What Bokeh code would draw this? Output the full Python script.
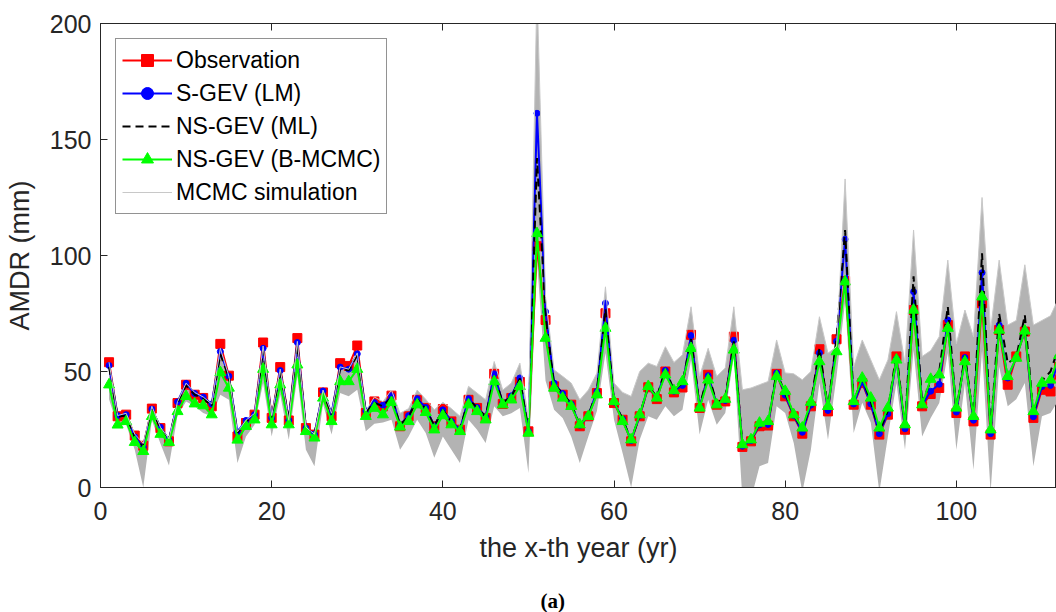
from bokeh.plotting import figure
from bokeh.models import Range1d, LinearAxis, Title, FixedTicker
from bokeh.embed import file_html
from bokeh.resources import INLINE

years = list(range(1, 113))

observation = [54, 30.7, 31.4, 22.4, 18, 34, 25.6, 19.9, 36.4, 44.3, 40, 38.6, 35, 61.9, 48.2, 22, 27.8, 31.4, 62.5, 30,
               51.9, 28.9, 64.4, 25.6, 22.8, 41, 30.7, 53.6, 52.4, 61.2, 32.1, 37.1, 35, 39.6, 26.4, 30.7, 37.8, 34.3, 26.4, 33.8,
               28.5, 24.9, 37.8, 34.3, 30, 49, 36, 38.6, 45.5, 24.2, 104, 72.2, 43.6, 40, 35.7, 26.4, 30.7, 40.7, 75.1, 36.4,
               29.2, 19.9, 30.7, 43.2, 38.1, 50, 41, 43.1, 65.8, 34.3, 48.6, 35.7, 37.1, 65, 17.5, 19.9, 26.4, 26.7, 49, 39.3,
               30.7, 23.2, 35, 59.6, 32.8, 63.9, 89, 35.7, 45, 35.7, 22.8, 31.4, 56.5, 24.9, 76.5, 35, 40.3, 42.9, 70, 32.1,
               56.5, 28.5, 79.4, 22.8, 67.9, 44.3, 56.5, 67.2, 30, 42.1, 41.4, 52]

s_gev_lm = [52.6, 31, 31.4, 21.8, 17.5, 33.8, 26, 20.5, 36.9, 44.9, 40.5, 39, 36, 58.6, 48, 24, 28.9, 31.4, 60, 30,
            50.4, 29, 62.5, 25.6, 23, 41.6, 32, 51.9, 51, 57.6, 33, 36.6, 35.5, 39.6, 27, 31, 38.3, 34.5, 26.5, 33.5,
            28.5, 25, 38.3, 34.5, 30.5, 49, 36.5, 39.5, 47.2, 24.2, 161.3, 75.8, 45, 40.5, 36, 26.8, 31, 41.4, 79.4, 36.8,
            29.5, 20.2, 31, 43.6, 38.6, 50.5, 41.5, 44, 65.5, 34.6, 48.2, 36, 37.5, 63.5, 17.8, 20.2, 27, 27.2, 49.3, 39.8,
            31, 23.8, 35.5, 58, 33.2, 63, 107, 36, 45.5, 36, 23.2, 31.8, 55.5, 25.3, 84.4, 35.5, 41.5, 44.5, 72.2, 32.5,
            56, 29, 92.6, 23.2, 70, 47.2, 56, 67.9, 30.5, 43.5, 44, 55]

ns_gev_ml = [52, 30.5, 31, 21.5, 17.5, 33.5, 25.5, 20.5, 36.5, 44, 40, 38.5, 35, 57.5, 47.5, 23.5, 28.5, 31, 59, 30,
             50, 29, 61.5, 25.5, 23, 41, 31.5, 51, 50.5, 57, 32.5, 36.5, 35, 39, 27, 30.5, 38, 34, 26.5, 33.5,
             28.5, 25, 38, 34.5, 30.5, 48.5, 36.5, 39, 47, 24.5, 142, 74, 44.5, 40.5, 36, 27, 31, 41.5, 77, 37,
             29.5, 20.5, 31, 44, 39, 51, 42, 45, 64, 35, 49, 36.5, 38.5, 63, 18.5, 20.5, 27.5, 28, 50, 40.5,
             31.5, 24.5, 36.5, 60, 34, 64.5, 111, 37, 47, 37, 24, 33, 58, 26, 91, 36, 46, 50, 78, 33,
             57, 29.5, 101, 24, 75, 53.6, 56, 74.4, 31.5, 46, 50, 61]

ns_gev_bmcmc = [44.3, 27, 28.5, 19.5, 15.6, 30.7, 23, 19.5, 32.8, 39.3, 36.1, 35.3, 31.4, 49.6, 42.9, 20.5, 26.4, 29.2, 51, 27.1,
                44.3, 27.1, 52.9, 24.2, 21.4, 38.6, 28.5, 45.7, 45.7, 51, 30.7, 34.2, 31.4, 36.7, 26.1, 28.5, 35.7, 32.4, 24.9, 31,
                27.1, 24.2, 35.7, 32.8, 29.2, 45.7, 35.7, 37.8, 43.6, 23.5, 109.5, 64.4, 42.9, 38.6, 35, 27.1, 30.7, 40, 68.7, 37.1,
                28.5, 20.6, 31.4, 43.6, 38.6, 48.6, 41.8, 45.7, 60, 34.3, 46.4, 35.7, 38.1, 59.3, 18.5, 20.6, 27.8, 28.5, 47.9, 41.5,
                31.4, 25.7, 36.8, 54.3, 35, 58.6, 88.7, 37.1, 47.2, 38.6, 25.7, 34.3, 55, 27.1, 76.5, 35.7, 46.7, 48.6, 68.7, 34.3,
                54.3, 30.7, 82.2, 24.9, 67.9, 47.9, 55.8, 67.5, 32.8, 45, 46.4, 57]

mcmc_upper = [54, 31, 32, 23, 19, 35, 26, 21, 37, 45, 41, 39, 36, 60, 48, 24, 29, 32, 61, 31,
              51, 29, 63, 26, 23, 42, 32, 52, 51, 58, 33, 39, 37, 42, 32, 34, 42, 38, 33.5, 36.7,
              34, 30.7, 43.6, 40.7, 37.8, 54.3, 42, 45, 53.6, 30, 215, 82, 50.7, 47.9, 45, 37.8, 42, 49.3, 86.5, 45,
              41, 39.3, 50, 53.6, 52.2, 60.7, 53.9, 57.2, 77.9, 48, 60, 47.9, 51.5, 77.9, 42.1, 42.9, 44.3, 45.7, 63.6, 49.4,
              49, 46.4, 50, 73.6, 57.9, 60.7, 133, 52, 63.6, 55, 46.4, 55, 75.8, 53.6, 111, 56.5, 59, 65, 98, 62,
              76.5, 65, 125, 68, 98, 70, 72, 96, 70, 72, 74, 82]

mcmc_lower = [38, 26.4, 27, 16.3, 0, 29, 19, 9.5, 31, 37.1, 35, 32.1, 30.7, 40, 37.8, 10.6, 22, 27, 45, 22,
              40, 20.6, 48, 16.3, 9.2, 36, 22.8, 40.7, 39.3, 42.1, 24.2, 27.5, 28, 29.2, 16.3, 22, 29.2, 23.5, 12.8, 22,
              16.3, 10.6, 29.2, 24.9, 19.2, 35, 30.7, 32, 34.3, 6.3, 98, 46, 33.5, 30, 22, 10.6, 22, 33, 58, 29.2,
              14.9, 0, 20.6, 30.7, 29.2, 35, 30.7, 33.5, 55, 22.8, 37.8, 27.1, 32.1, 56.5, -5, -5, 9.2, 10.6, 35, 32.1,
              19.2, -2, 16.3, 45, 20.6, 47.9, 80, 23.5, 36.5, 28, -2, 22, 45, 16.3, 59.3, 22, 30, 36.4, 58, 16.3,
              45, 7.7, 59, -2, 52, 35, 38, 45, 9.2, 30.7, 32.1, 38]

x_ticks = [0, 20, 40, 60, 80, 100]
y_ticks = [0, 50, 100, 150, 200]

FONT = "Liberation Sans"
AX = "#262626"

p = figure(width=1056, height=612, output_backend="svg", toolbar_location=None,
           x_range=Range1d(0, 111.7), y_range=Range1d(0, 200),
           min_border_left=100, min_border_right=0, min_border_top=23, min_border_bottom=124)
p.grid.visible = False
p.outline_line_color = AX
p.outline_line_width = 1
p.background_fill_color = "white"
p.border_fill_color = "white"

p.varea(x=years, y1=mcmc_lower, y2=mcmc_upper, fill_color="#b3b3b3", fill_alpha=1.0)

p.line(years, observation, color="#ff0000", line_width=2, legend_label="Observation")
p.scatter(years, observation, marker="square", size=9, color="#ff0000", legend_label="Observation")

p.line(years, s_gev_lm, color="#0000ff", line_width=2, legend_label="S-GEV (LM)")
p.scatter(years, s_gev_lm, marker="circle", size=6, color="#0000ff", legend_label="S-GEV (LM)")

p.line(years, ns_gev_ml, color="#000000", line_width=2, line_dash="8 5", legend_label="NS-GEV (ML)")

p.line(years, ns_gev_bmcmc, color="#00ff00", line_width=2, legend_label="NS-GEV (B-MCMC)")
p.scatter(years, ns_gev_bmcmc, marker="triangle", size=11, color="#00ff00", legend_label="NS-GEV (B-MCMC)")

p.line(years, mcmc_upper, color="#c8c8c8", line_width=1, legend_label="MCMC simulation")

for ax in p.axis:
    ax.axis_line_color = AX
    ax.major_tick_line_color = AX
    ax.major_tick_in = 7
    ax.major_tick_out = 0
    ax.minor_tick_in = 0
    ax.minor_tick_out = 0
    ax.major_label_text_font = FONT
    ax.major_label_text_font_size = "25px"
    ax.major_label_text_color = AX
    ax.axis_label_text_font = FONT
    ax.axis_label_text_font_size = "27px"
    ax.axis_label_text_font_style = "normal"
    ax.axis_label_text_color = AX

p.xaxis.ticker = FixedTicker(ticks=x_ticks)
p.yaxis.ticker = FixedTicker(ticks=y_ticks)
p.xaxis.axis_label = "the x-th year (yr)"
p.yaxis.axis_label = "AMDR (mm)"
p.xaxis.major_label_standoff = 14
p.yaxis.major_label_standoff = 9
p.xaxis.axis_label_standoff = 10
p.yaxis.axis_label_standoff = 12

top = LinearAxis(ticker=FixedTicker(ticks=x_ticks), major_label_text_font_size="0px",
                 axis_line_color=AX, major_tick_line_color=AX, major_tick_in=7, major_tick_out=0,
                 minor_tick_in=0, minor_tick_out=0)
top.major_label_text_alpha = 0
p.add_layout(top, "above")

spacer = Title(text=".", text_font_size="1px", standoff=18, text_color="#ffffff")
p.add_layout(spacer, "below")

cap = Title(text="(a)", align="left", text_font="Liberation Serif", text_font_size="21px",
            text_font_style="bold", text_color="#000000", offset=440, standoff=0)
p.add_layout(cap, "below")

lg = p.legend[0]
lg.location = "top_left"
lg.margin = 15
lg.padding = 6
lg.spacing = 3
lg.glyph_width = 50
lg.glyph_height = 30
lg.label_height = 30
lg.label_standoff = 4
lg.label_text_font = FONT
lg.label_text_font_size = "23px"
lg.label_text_color = "#000000"
lg.border_line_color = AX
lg.border_line_width = 1
lg.background_fill_color = "white"
lg.background_fill_alpha = 1.0

open("out.html", "w").write(file_html(p, INLINE))
